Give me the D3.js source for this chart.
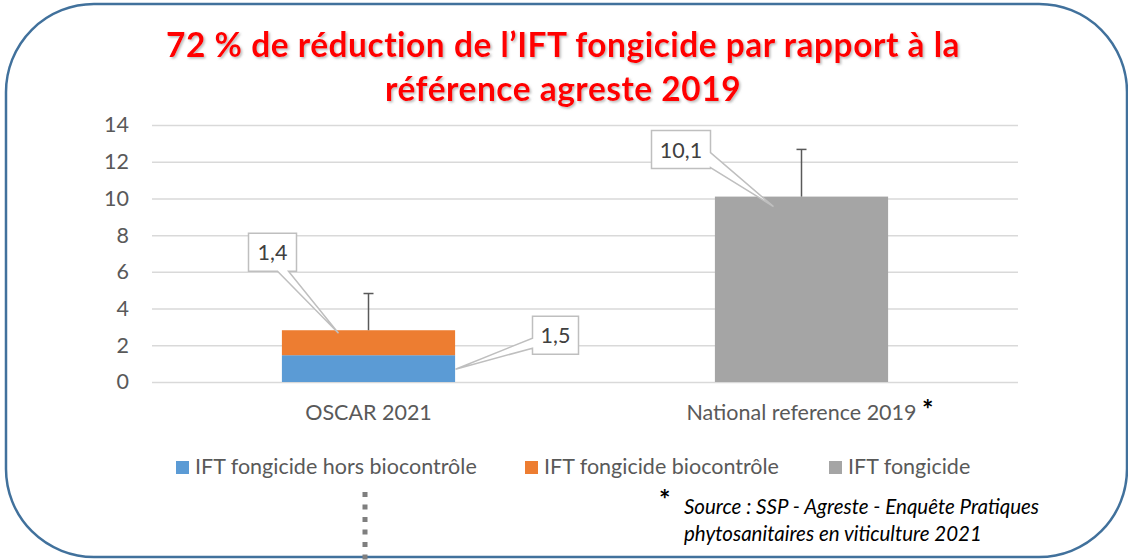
<!DOCTYPE html>
<html>
<head>
<meta charset="utf-8">
<script src="https://cdn.jsdelivr.net/npm/d3@7"></script>
<style>
  body { margin: 0; background: #fff; }
  svg { display: block; font-family: Lato, "Open Sans", sans-serif; }
</style>
</head>
<body>
<div id="chart"></div>
<script>
// data
var categories = ["OSCAR 2021", "National reference 2019"];
var seriesNames = ["IFT fongicide hors biocontrôle", "IFT fongicide biocontrôle", "IFT fongicide"];
var horsBiocontrole = [1.46, 0];
var biocontrole = [1.36, 0];
var iftFongicide = [0, 10.1];
var errorPlus = [2.0, 2.57];
var yTicks = [0, 2, 4, 6, 8, 10, 12, 14];
var titleLines = ["72 % de réduction de l\u2019IFT fongicide par rapport à la", "référence agreste 2019"];
var sourceLines = ["Source : SSP - Agreste - Enquête Pratiques", "phytosanitaires en viticulture 2021"];

var colors = ["#5b9bd5", "#ed7d31", "#a5a5a5"];

var W = 1128, H = 560;
var margin = {top: 125, right: 110, bottom: 178, left: 152};

var svg = d3.select("#chart").append("svg")
    .attr("width", W)
    .attr("height", H);

var defs = svg.append("defs");
var shadow = defs.append("filter").attr("id", "shadow")
    .attr("x", "-5%").attr("y", "-20%").attr("width", "110%").attr("height", "150%");
shadow.append("feDropShadow")
    .attr("dx", 1.5).attr("dy", 1.5).attr("stdDeviation", 1)
    .attr("flood-color", "#7f7f7f").attr("flood-opacity", 0.55);

// rounded frame
svg.append("rect")
    .attr("x", 6).attr("y", 4)
    .attr("width", 1121).attr("height", 553)
    .attr("rx", 88).attr("ry", 88)
    .attr("fill", "#fff")
    .attr("stroke", "#41719c")
    .attr("stroke-width", 2.5);

// title
svg.append("g").selectAll("text")
    .data(titleLines)
    .enter().append("text")
    .attr("x", 563)
    .attr("y", function (d, i) { return 57 + i * 44; })
    .attr("text-anchor", "middle")
    .attr("fill", "#ff0000")
    .attr("font-weight", "bold")
    .attr("font-size", 33.5)
    .attr("letter-spacing", 0.5)
    .attr("filter", "url(#shadow)")
    .text(function (d) { return d; });

var width = W - margin.left - margin.right;

var x = d3.scaleBand().domain(categories).range([margin.left, margin.left + width]);
var y = d3.scaleLinear().domain([0, 14]).range([382, 125]);

// gridlines
svg.append("g")
    .attr("transform", "translate(" + margin.left + ",0)")
    .call(d3.axisLeft(y).tickValues(yTicks).tickSize(-width).tickFormat(""))
    .call(function (g) {
        g.select(".domain").remove();
        g.selectAll(".tick line").attr("stroke", "#d9d9d9").attr("stroke-width", 1.5);
    });

// y tick labels
svg.append("g")
    .attr("transform", "translate(129,0)")
    .call(d3.axisLeft(y).tickValues(yTicks).tickSize(0).tickPadding(0))
    .call(function (g) {
        g.select(".domain").remove();
        g.selectAll("text")
            .attr("font-family", "Lato, sans-serif")
            .attr("font-size", 21.5)
            .attr("fill", "#595959");
    });

// stacked bars
var rows = categories.map(function (c, i) {
    return {cat: c, s0: horsBiocontrole[i], s1: biocontrole[i], s2: iftFongicide[i]};
});
var stack = d3.stack().keys(["s0", "s1", "s2"]);
var stacked = stack(rows);

var barW = x.bandwidth() * 0.4;

svg.append("g").selectAll("g")
    .data(stacked)
    .enter().append("g")
    .attr("fill", function (d, i) { return colors[i]; })
    .selectAll("rect")
    .data(function (d) { return d; })
    .enter().append("rect")
    .attr("x", function (d) { return x(d.data.cat) + (x.bandwidth() - barW) / 2; })
    .attr("y", function (d) { return y(d[1]); })
    .attr("width", barW)
    .attr("height", function (d) { return y(d[0]) - y(d[1]); });

// error bars (plus only)
var errG = svg.append("g").attr("stroke", "#595959").attr("stroke-width", 1.5);
rows.forEach(function (r, i) {
    var total = r.s0 + r.s1 + r.s2;
    var cx = x(r.cat) + x.bandwidth() / 2;
    errG.append("line")
        .attr("x1", cx).attr("x2", cx)
        .attr("y1", y(total)).attr("y2", y(total + errorPlus[i]));
    errG.append("line")
        .attr("x1", cx - 5).attr("x2", cx + 5)
        .attr("y1", y(total + errorPlus[i])).attr("y2", y(total + errorPlus[i]));
});

// data callouts: segment, anchor offset, box offset, wedge side
var callouts = [
    {cat: 0, key: 1, ax: -30, ay: 3, bx: -90, by: -100, w: 48, h: 38, side: "bottom", w0: 29, w1: 40},
    {cat: 0, key: 0, ax: 87, ay: 14, bx: 77, by: -53, w: 46, h: 38, side: "left", w0: 22, w1: 32},
    {cat: 1, key: 2, ax: -28, ay: 10, bx: -122, by: -76, w: 59, h: 38, side: "right", w0: 22, w1: 37}
];
var fmt = function (v) { return d3.format(".1f")(v).replace(".", ","); };

function calloutPath(bx, by, w, h, ax, ay, side, w0, w1) {
    var p = "M" + bx + "," + by + " H" + (bx + w);
    if (side === "right") {
        p += " V" + (by + w0) + " L" + ax + "," + ay + " L" + (bx + w) + "," + (by + w1);
    }
    p += " V" + (by + h);
    if (side === "bottom") {
        p += " H" + (bx + w1) + " L" + ax + "," + ay + " L" + (bx + w0) + "," + (by + h);
    }
    p += " H" + bx;
    if (side === "left") {
        p += " V" + (by + w1) + " L" + ax + "," + ay + " L" + bx + "," + (by + w0);
    }
    return p + " Z";
}

var cg = svg.append("g");
callouts.forEach(function (c) {
    var seg = stacked[c.key][c.cat];
    var value = seg[1] - seg[0];
    var ax = x(categories[c.cat]) + x.bandwidth() / 2 + c.ax;
    var ay = y(seg[1]) + c.ay;
    var bx = ax + c.bx, by = ay + c.by;
    cg.append("path")
        .attr("d", calloutPath(bx, by, c.w, c.h, ax, ay, c.side, c.w0, c.w1))
        .attr("fill", "#fff")
        .attr("stroke", "#bfbfbf")
        .attr("stroke-width", 1.5);
    cg.append("text")
        .attr("x", bx + c.w / 2)
        .attr("y", by + c.h / 2 + 8)
        .attr("text-anchor", "middle")
        .attr("font-size", 21.5)
        .attr("fill", "#404040")
        .text(fmt(value));
});

// category labels
svg.append("g").selectAll("text")
    .data(categories)
    .enter().append("text")
    .attr("x", function (d) { return x(d) + x.bandwidth() / 2; })
    .attr("y", 420)
    .attr("text-anchor", "middle")
    .attr("font-size", 21.5)
    .attr("fill", "#595959")
    .text(function (d) { return d; });

svg.append("text")
    .attr("x", 922).attr("y", 419)
    .attr("font-size", 27)
    .attr("font-weight", "bold")
    .attr("fill", "#000")
    .text("*");

// legend
var legendX = [176, 525, 829];
var legend = svg.append("g").selectAll("g")
    .data(seriesNames)
    .enter().append("g")
    .attr("transform", function (d, i) { return "translate(" + legendX[i] + ",461)"; });
legend.append("rect")
    .attr("width", 13).attr("height", 13)
    .attr("fill", function (d, i) { return colors[i]; });
legend.append("text")
    .attr("x", 19).attr("y", 13)
    .attr("font-size", 21.5)
    .attr("fill", "#595959")
    .text(function (d) { return d; });

// dotted connector
svg.append("line")
    .attr("x1", 365).attr("x2", 365)
    .attr("y1", 492).attr("y2", 560)
    .attr("stroke", "#7f7f7f")
    .attr("stroke-width", 5)
    .attr("stroke-dasharray", "5,7.5");

// source note
svg.append("text")
    .attr("x", 659).attr("y", 509)
    .attr("font-size", 27)
    .attr("font-weight", "bold")
    .attr("fill", "#000")
    .text("*");
svg.append("g").selectAll("text")
    .data(sourceLines)
    .enter().append("text")
    .attr("x", 684)
    .attr("y", function (d, i) { return 514 + i * 27; })
    .attr("font-size", 20.5)
    .attr("font-style", "italic")
    .attr("fill", "#000")
    .text(function (d) { return d; });
</script>
</body>
</html>
